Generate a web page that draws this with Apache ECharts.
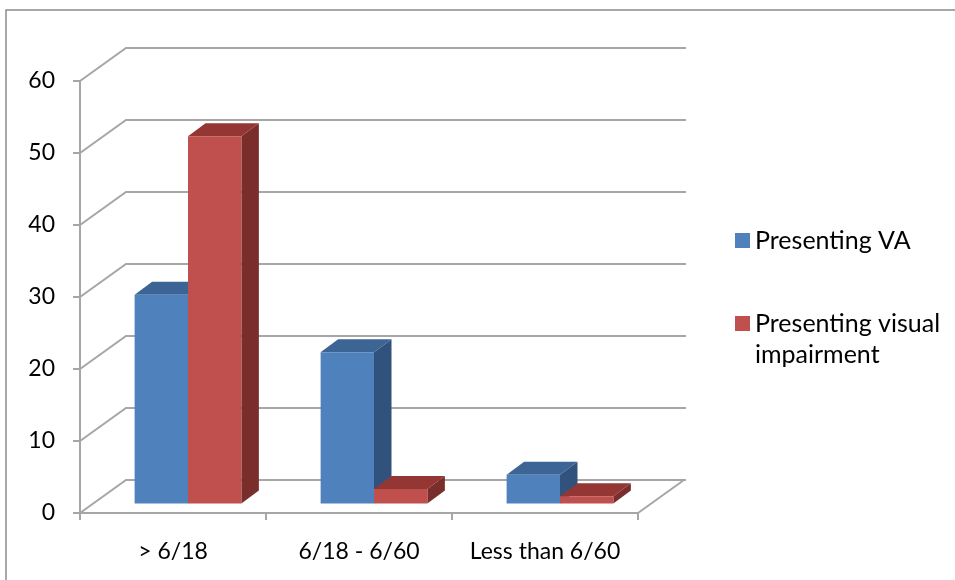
<!DOCTYPE html>
<html><head><meta charset="utf-8">
<script src="https://cdn.jsdelivr.net/npm/echarts@6/dist/echarts.min.js"></script>
<style>html,body{margin:0;padding:0;background:#fff}#c{width:955px;height:580px}</style>
</head><body><div id="c"></div>
<script>
const categories = ['> 6/18', '6/18 - 6/60', 'Less than 6/60'];
const presentingVA = [29, 21, 4];
const presentingVI = [51, 2, 1];
const yTicks = [0, 10, 20, 30, 40, 50, 60];
const seriesNames = ['Presenting VA', 'Presenting visual impairment'];

const FONT = 'Lato';
const FS_AXIS = 23;
const FS_LEG = 25;
const DEPTH = [46, -33];
const BAR_FRONT = [15, -9.5];
const BAR_DEPTH = [17.5, -13];
const BAR_W_RATIO = 0.287;
const GRID_COLOR = '#A6A6A6';

const palette = [
  { front: '#4F81BD', top: '#3C6494', side: '#31527D' },
  { front: '#C0504D', top: '#943634', side: '#7A2E2C' }
];

function barRender(si) {
  return function (params, api) {
    const cat = api.value(0), v = api.value(1);
    const top = api.coord([cat, v]);
    const base = api.coord([cat, 0]);
    const cw = api.size([1, 0])[0];
    const bw = cw * BAR_W_RATIO;
    const x0 = top[0] - bw + si * bw + BAR_FRONT[0];
    const x1 = x0 + bw;
    const yt = top[1] + BAR_FRONT[1];
    const yb = base[1] + BAR_FRONT[1];
    const dx = BAR_DEPTH[0], dy = BAR_DEPTH[1];
    const c = palette[si];
    return {
      type: 'group', children: [
        { type: 'polygon', shape: { points: [[x1, yt], [x1 + dx, yt + dy], [x1 + dx, yb + dy], [x1, yb]] }, style: { fill: c.side } },
        { type: 'polygon', shape: { points: [[x0, yt], [x1, yt], [x1 + dx, yt + dy], [x0 + dx, yt + dy]] }, style: { fill: c.top } },
        { type: 'rect', shape: { x: x0, y: yt, width: bw, height: yb - yt }, style: { fill: c.front } }
      ]
    };
  };
}

function wallRender(params, api) {
  const cs = params.coordSys;
  const v = api.value(1);
  const p = api.coord([0, v]);
  const xL = cs.x, xR = cs.x + cs.width, y = p[1];
  const children = [
    { type: 'polyline', shape: { points: [[xL, y], [xL + DEPTH[0], y + DEPTH[1]], [xR + DEPTH[0] + 2, y + DEPTH[1]]] },
      style: { stroke: GRID_COLOR, lineWidth: 2, fill: null } }
  ];
  if (v === 0) {
    children.push({ type: 'line', shape: { x1: xR, y1: y, x2: xR + DEPTH[0], y2: y + DEPTH[1] },
      style: { stroke: GRID_COLOR, lineWidth: 2 } });
  }
  return { type: 'group', children };
}

const chart = echarts.init(document.getElementById('c'), null, { renderer: 'canvas' });
chart.setOption({
  animation: false,
  backgroundColor: '#fff',
  textStyle: { fontFamily: FONT },
  graphic: [{
    type: 'rect', shape: { x: 6, y: 10, width: 1000, height: 1000 },
    style: { fill: null, stroke: '#8C8C8C', lineWidth: 1.5 }, silent: true
  }],
  grid: { left: 80, top: 81, right: 317, bottom: 67 },
  xAxis: {
    type: 'category', data: categories,
    axisLine: { lineStyle: { color: GRID_COLOR, width: 2 } },
    axisTick: { show: true, length: 7, lineStyle: { color: GRID_COLOR, width: 2 } },
    axisLabel: { color: '#000', fontSize: FS_AXIS, fontFamily: FONT, margin: 27, interval: 0 },
    splitLine: { show: false }
  },
  yAxis: {
    type: 'value', min: 0, max: 60, interval: 10,
    axisLine: { show: true, lineStyle: { color: GRID_COLOR, width: 2 } },
    axisTick: { show: true, length: 7, lineStyle: { color: GRID_COLOR, width: 2 } },
    axisLabel: { color: '#000', fontSize: FS_AXIS, fontFamily: FONT, margin: 25 },
    splitLine: { show: false }
  },
  legend: [{
    data: [seriesNames[0]], orient: 'vertical', left: 735, top: 225.5, padding: 0,
    itemWidth: 15, itemHeight: 15, icon: 'rect',
    textStyle: { color: '#000', fontSize: FS_LEG, fontFamily: FONT, lineHeight: 30 }
  }, {
    data: [seriesNames[1]], orient: 'vertical', left: 735, top: 277, padding: 0,
    itemWidth: 15, itemHeight: 15, icon: 'rect',
    formatter: () => '\nPresenting visual\nimpairment',
    textStyle: { color: '#000', fontSize: FS_LEG, fontFamily: FONT, lineHeight: 31 }
  }],
  series: [
    { type: 'custom', name: '_wall', silent: true, z: 1, data: yTicks.map(v => [0, v]), renderItem: wallRender },
    { type: 'custom', name: seriesNames[0], z: 3, itemStyle: { color: palette[0].front },
      data: presentingVA.map((v, i) => [i, v]), renderItem: barRender(0), encode: { x: 0, y: 1 } },
    { type: 'custom', name: seriesNames[1], z: 3, itemStyle: { color: palette[1].front },
      data: presentingVI.map((v, i) => [i, v]), renderItem: barRender(1), encode: { x: 0, y: 1 } }
  ]
});
</script>
</body></html>
